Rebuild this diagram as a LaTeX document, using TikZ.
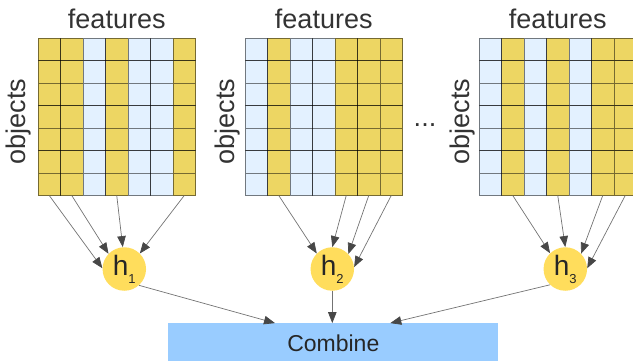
\documentclass[tikz,border=0pt]{standalone}
\usepackage{fontspec}
\setmainfont{Liberation Sans}
\usetikzlibrary{arrows.meta}
\definecolor{ycell}{HTML}{EDD663}
\definecolor{bcell}{HTML}{E3F1FF}
\definecolor{hfill}{HTML}{FFDD5C}
\definecolor{cfill}{HTML}{99CCFF}
\begin{document}
\begin{tikzpicture}[x=1pt,y=-1pt,
  cell/.style={draw=black,draw opacity=0.5,line width=0.9pt},
  conn/.style={draw=black!55,line width=0.7pt,-{Triangle[length=11pt,width=8.5pt,color=black!72]}},
  hnode/.style={circle,fill=hfill,minimum size=43.5pt,inner sep=0pt,text=black!85},
  lab/.style={font=\fontsize{27}{27}\selectfont,text=black!80,inner sep=0pt},
  cbox/.style={rectangle,fill=cfill,minimum width=330pt,minimum height=48pt,inner sep=0pt,
    font=\fontsize{23}{23}\selectfont,text=black!85,text height=16.5pt,text depth=8.5pt}]
\useasboundingbox (0,0) rectangle (633,360);

% grids
\foreach \gx/\pat [count=\g] in {38/{ycell,ycell,bcell,ycell,bcell,bcell,ycell},
                                245/{bcell,ycell,bcell,bcell,ycell,ycell,ycell},
                                479/{bcell,ycell,bcell,ycell,bcell,ycell,ycell}} {
  \foreach \col [count=\i from 0] in \pat {
    \foreach \r in {0,...,6} {
      \draw[cell,fill=\col] (\gx+\i*22.5,38+\r*22.5) rectangle ++(22.5,22.5);
    }
    \coordinate (g\g c\i) at (\gx+\i*22.5+11.25,195.5);
  }
  \node[lab,anchor=base] (feat\g) at (\gx+78.75,28) {features};
}

\node[lab,rotate=90,anchor=base] (obj1) at (25,121.7) {objects};
\node[lab,rotate=90,anchor=base] (obj2) at (234.5,121.7) {objects};
\node[lab,rotate=90,anchor=base] (obj3) at (469.5,121.7) {objects};
\node[lab,anchor=base] (dots) at (425,126.5) {...};

% hypothesis nodes
\node[hnode] (h1) at (124.3,269) {{\fontsize{28}{28}\selectfont h}\raisebox{-8pt}{\fontsize{13}{13}\selectfont 1}};
\node[hnode] (h2) at (332.3,269) {{\fontsize{28}{28}\selectfont h}\raisebox{-8pt}{\fontsize{13}{13}\selectfont 2}};
\node[hnode] (h3) at (565.3,269) {{\fontsize{28}{28}\selectfont h}\raisebox{-8pt}{\fontsize{13}{13}\selectfont 3}};

% combine
\node[cbox] (comb) at (333.3,347.3) {Combine};
\coordinate (c1) at ([xshift=-58.3pt]comb.north);
\coordinate (c3) at ([xshift=57pt]comb.north);

% connectors into h nodes
\draw[conn] (g1c0) -- (h1.178);
\draw[conn] (g1c1) -- (h1.136);
\draw[conn] (g1c3) -- (h1.94);
\draw[conn] (g1c6) -- (h1.45);

\draw[conn] (g2c1) -- (h2.135);
\draw[conn] (g2c4) -- (h2.90);
\draw[conn] (g2c5) -- (h2.43);
\draw[conn] (g2c6) -- (h2.5);

\draw[conn] (g3c1) -- (h3.134);
\draw[conn] (g3c3) -- (h3.90);
\draw[conn] (g3c5) -- (h3.44);
\draw[conn] (g3c6) -- (h3.2);

% connectors into combine
\draw[conn] (h1.-48) -- (c1);
\draw[conn] (h2.south) -- (h2.south |- comb.north);
\draw[conn] (h3.-134) -- (c3);
\end{tikzpicture}
\end{document}
